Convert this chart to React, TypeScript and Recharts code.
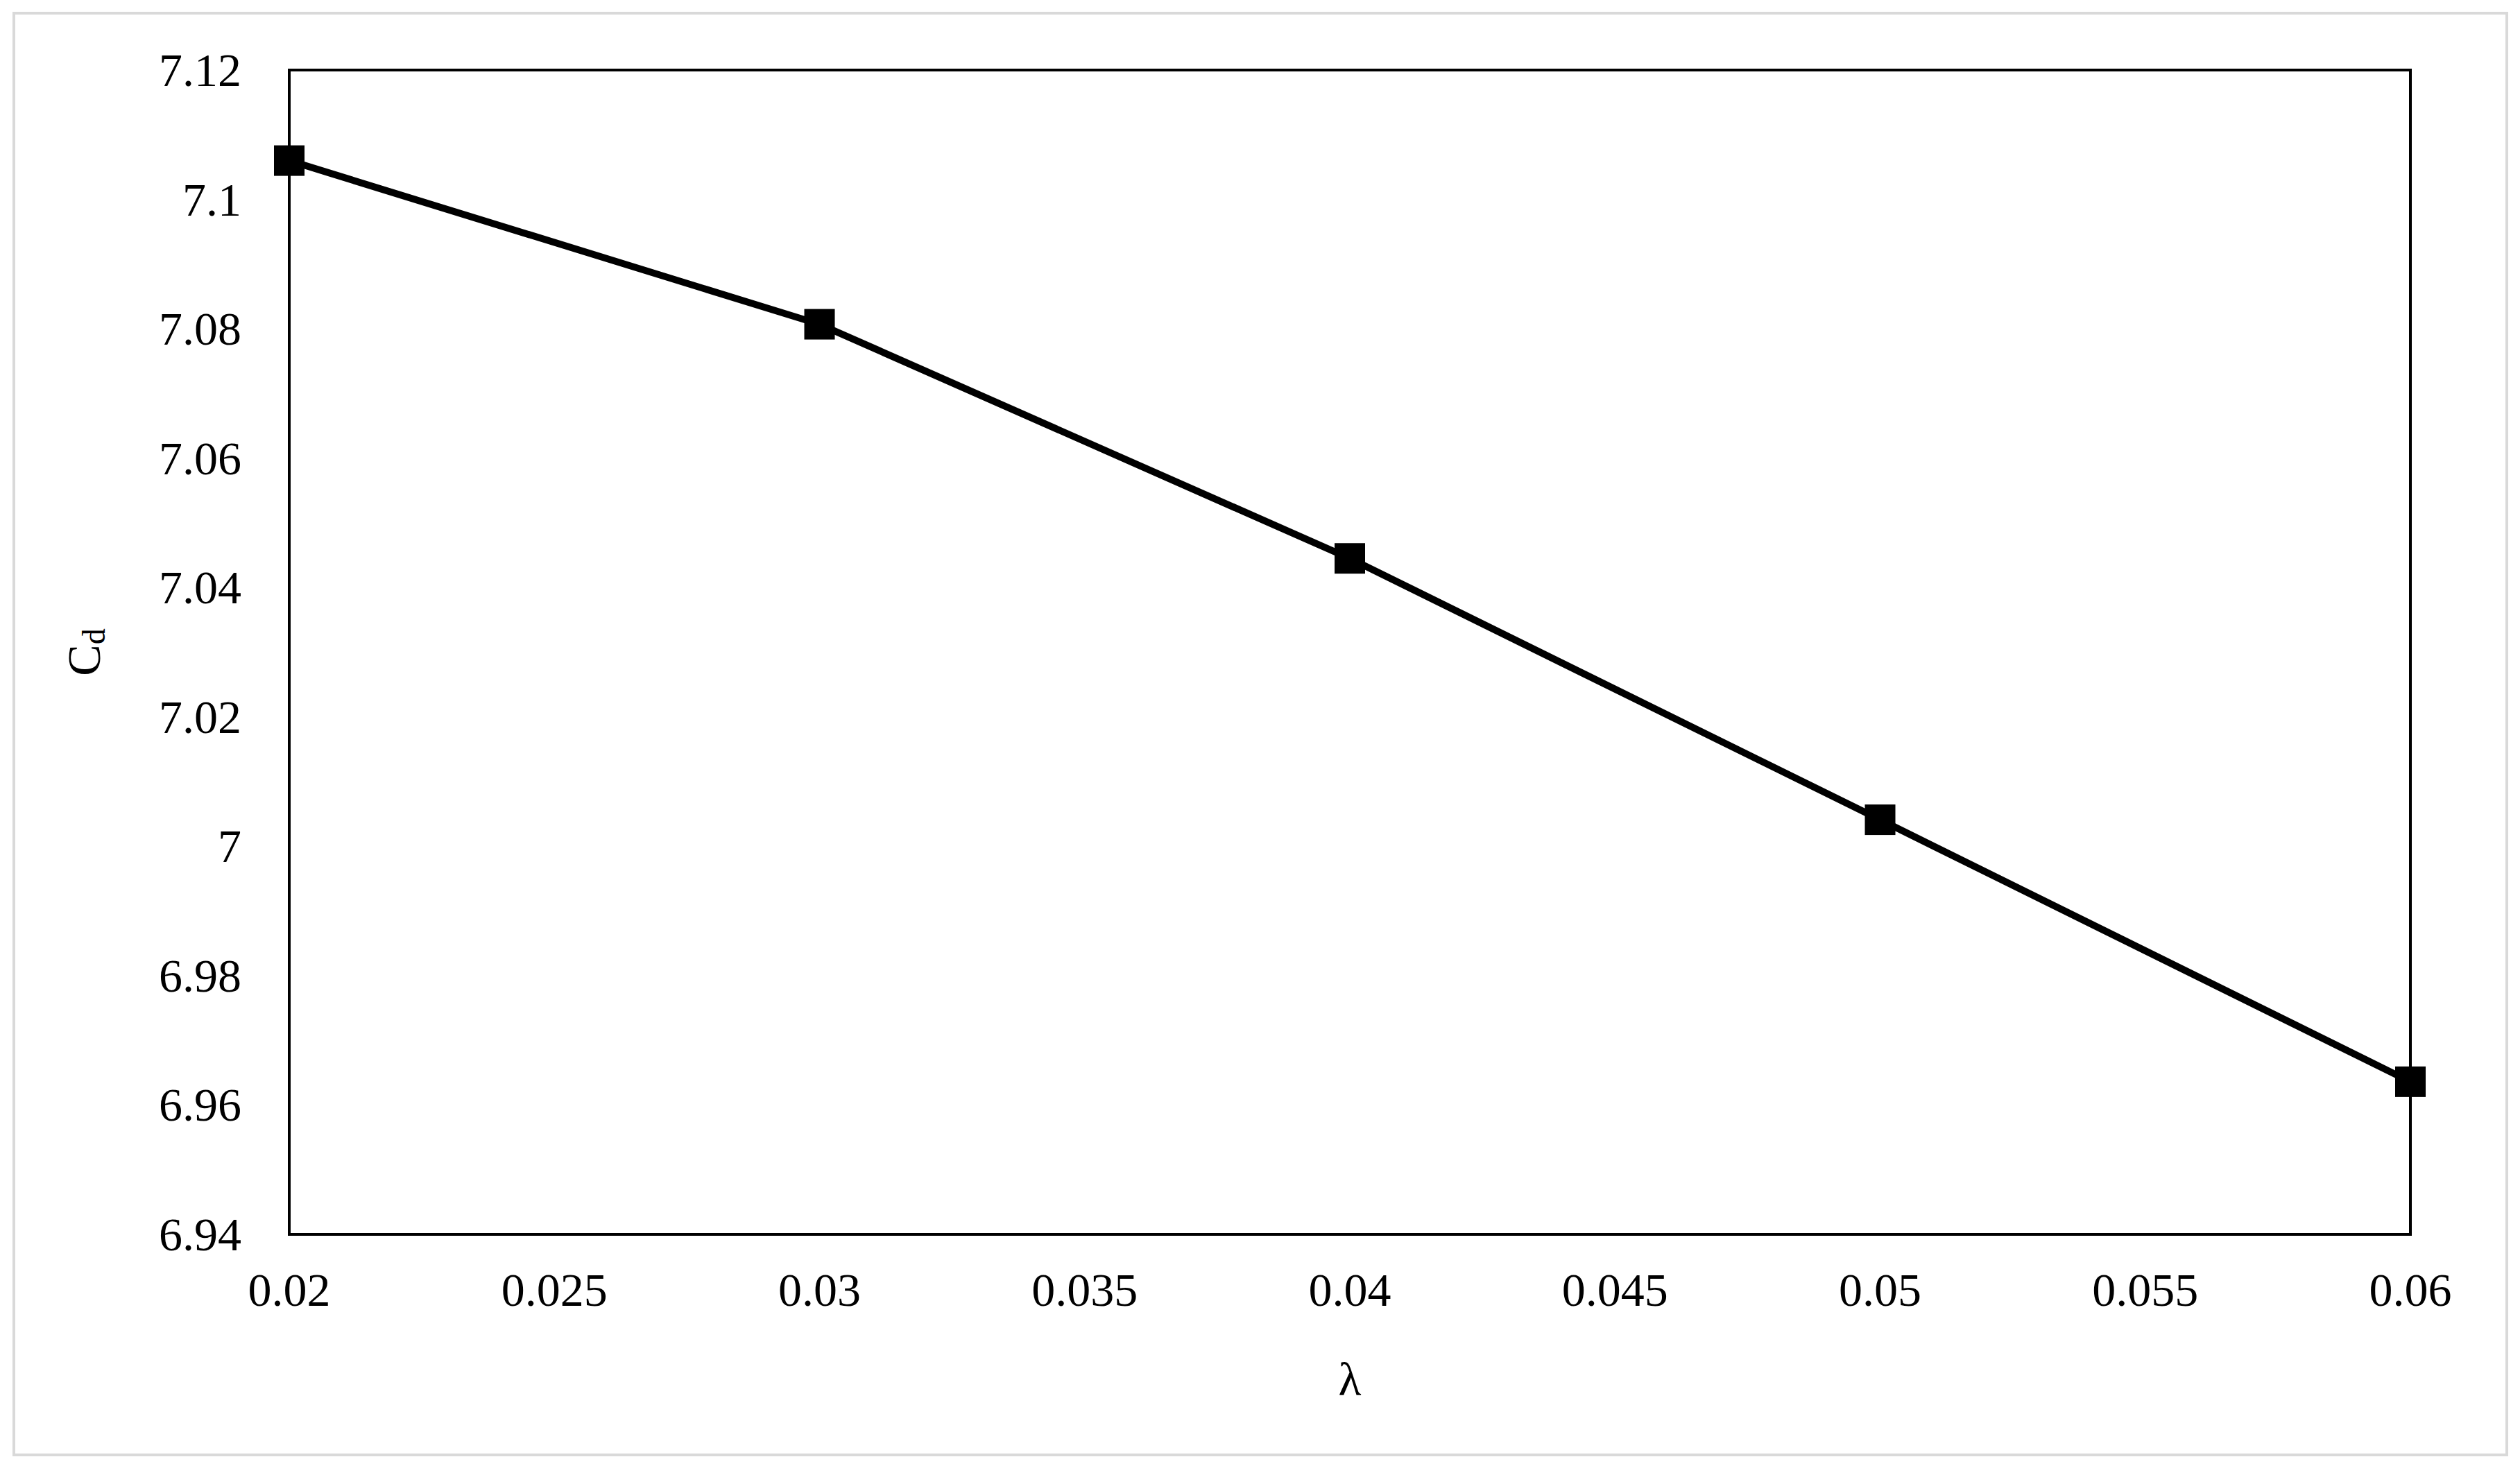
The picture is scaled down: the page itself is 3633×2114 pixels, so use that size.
import { LineChart, Line, XAxis, YAxis, ReferenceArea } from "recharts";

const lambdaValues = [0.02, 0.03, 0.04, 0.05, 0.06];
const cdValues = [7.106, 7.0807, 7.0445, 7.0041, 6.9636];
const xTicks = [0.02, 0.025, 0.03, 0.035, 0.04, 0.045, 0.05, 0.055, 0.06];
const yTicks = [6.94, 6.96, 6.98, 7.0, 7.02, 7.04, 7.06, 7.08, 7.1, 7.12];

const FONT = '"Liberation Serif", "Times New Roman", serif';
const FONT_SIZE = 68;

const data = lambdaValues.map((lambda, i) => ({ lambda, cd: cdValues[i] }));

function XTick({ x, y, payload }: any) {
  return (
    <text x={x} y={y + 103} textAnchor="middle" fontFamily={FONT} fontSize={FONT_SIZE} fill="#000">
      {String(payload.value)}
    </text>
  );
}

function YTick({ x, y, payload }: any) {
  return (
    <text x={x - 69} y={y + 23} textAnchor="end" fontFamily={FONT} fontSize={FONT_SIZE} fill="#000">
      {String(payload.value)}
    </text>
  );
}

function SquareDot({ cx, cy, index }: any) {
  return <rect key={`dot-${index}`} x={cx - 22} y={cy - 22} width={44} height={44} fill="#000" />;
}

export default function App() {
  return (
    <div style={{ position: "absolute", left: 0, top: 0, width: 3633, height: 2114, background: "#fff", overflow: "hidden" }}>
      <div
        style={{
          position: "absolute",
          left: 18,
          top: 17,
          width: 3598,
          height: 2083,
          border: "4px solid #d9d9d9",
          boxSizing: "border-box",
        }}
      />
      <div style={{ position: "absolute", left: 0, top: 0 }}>
        <LineChart width={3633} height={2114} data={data} margin={{ top: 101, right: 158, bottom: 234, left: 117 }}>
          <XAxis
            dataKey="lambda"
            type="number"
            domain={[0.02, 0.06]}
            ticks={xTicks}
            interval={0}
            height={100}
            axisLine={false}
            tickLine={false}
            tickSize={0}
            tickMargin={0}
            tick={<XTick />}
            label={{
              content: ({ viewBox }: any) => (
                <text
                  x={viewBox.x + viewBox.width / 2}
                  y={2012}
                  textAnchor="middle"
                  fontFamily={FONT}
                  fontSize={FONT_SIZE}
                  fill="#000"
                >
                  λ
                </text>
              ),
            }}
          />
          <YAxis
            dataKey="cd"
            type="number"
            domain={[6.94, 7.12]}
            ticks={yTicks}
            interval={0}
            width={300}
            axisLine={false}
            tickLine={false}
            tickSize={0}
            tickMargin={0}
            tick={<YTick />}
            label={{
              content: ({ viewBox }: any) => {
                const cx = 121;
                const cy = viewBox.y + viewBox.height / 2;
                return (
                  <text
                    x={cx}
                    y={cy}
                    transform={`rotate(-90, ${cx}, ${cy})`}
                    textAnchor="middle"
                    dominantBaseline="central"
                    fontFamily={FONT}
                    fontSize={FONT_SIZE}
                    fill="#000"
                  >
                    C
                    <tspan fontSize={46} dy={14}>
                      d
                    </tspan>
                  </text>
                );
              },
            }}
          />
          <ReferenceArea
            x1={0.02}
            x2={0.06}
            y1={6.94}
            y2={7.12}
            fill="none"
            fillOpacity={0}
            stroke="#000"
            strokeWidth={4}
            ifOverflow="extendDomain"
          />
          <Line
            type="linear"
            dataKey="cd"
            stroke="#000"
            strokeWidth={10}
            dot={SquareDot}
            activeDot={false}
            isAnimationActive={false}
          />
        </LineChart>
      </div>
    </div>
  );
}
